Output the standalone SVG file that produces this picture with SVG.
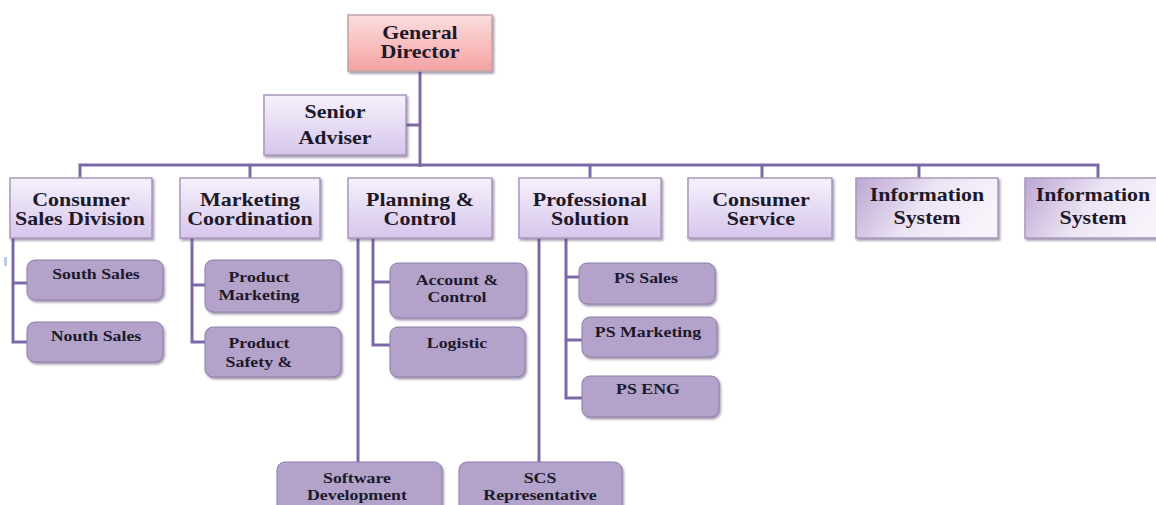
<svg xmlns="http://www.w3.org/2000/svg" width="1156" height="505" viewBox="0 0 1156 505">
  <defs>
    <linearGradient id="gPink" x1="0" y1="0" x2="0" y2="1">
      <stop offset="0" stop-color="#fcdede"/>
      <stop offset="1" stop-color="#f4a2a2"/>
    </linearGradient>
    <linearGradient id="gLav" x1="0" y1="0" x2="0" y2="1">
      <stop offset="0" stop-color="#f6f1fb"/>
      <stop offset="1" stop-color="#d6c6ec"/>
    </linearGradient>
    <linearGradient id="gInfo" x1="0" y1="0" x2="1" y2="0.3">
      <stop offset="0" stop-color="#bba6d2"/>
      <stop offset="0.55" stop-color="#ece4f4"/>
      <stop offset="1" stop-color="#f7f2fa"/>
    </linearGradient>
    <filter id="sh" x="-10%" y="-10%" width="125%" height="130%">
      <feDropShadow dx="1.5" dy="2" stdDeviation="1" flood-color="#5a4a6e" flood-opacity="0.55"/>
    </filter>
  </defs>
  <style>
    .conn { fill: none; stroke: #7c68a6; stroke-width: 3; }
    .top { fill: url(#gLav); stroke: #a898bc; stroke-width: 1.5; filter: url(#sh); }
    .info { fill: url(#gInfo); stroke: #a898bc; stroke-width: 1.5; filter: url(#sh); }
    .head { fill: url(#gPink); stroke: #c4a4a8; stroke-width: 1.5; filter: url(#sh); }
    .sub { fill: #b3a3cb; stroke: #8e7ea8; stroke-width: 1; filter: url(#sh); }
    text { font-family: "Liberation Serif", "Times New Roman", serif; font-weight: bold; fill: #1c1a2a; text-anchor: middle;
           transform-box: fill-box; transform-origin: center; }
    .t1 { font-size: 18px; transform: scaleX(1.22); }
    .t2 { font-size: 15.5px; transform: scaleX(1.15); }
  </style>

  <rect width="1156" height="505" fill="#ffffff"/>

  <!-- connectors -->
  <g id="connectors">
    <path class="conn" d="M420 71 V167"/>
    <path class="conn" d="M406 125 H420"/>
    <path class="conn" d="M80 178 V165 H1098 V178"/>
    <path class="conn" d="M250 165 V178"/>
    <path class="conn" d="M590 165 V178"/>
    <path class="conn" d="M762 165 V178"/>
    <path class="conn" d="M919 165 V178"/>
    <!-- Consumer Sales Division -->
    <path class="conn" d="M13 238 V342 H27"/>
    <path class="conn" d="M13 283 H27"/>
    <!-- Marketing Coordination -->
    <path class="conn" d="M192 238 V342 H205"/>
    <path class="conn" d="M192 285 H205"/>
    <!-- Planning & Control -->
    <path class="conn" d="M358 238 V462"/>
    <path class="conn" d="M373 238 V345 H390"/>
    <path class="conn" d="M373 282 H390"/>
    <!-- Professional Solution -->
    <path class="conn" d="M539 238 V462"/>
    <path class="conn" d="M566 238 V398 H582"/>
    <path class="conn" d="M566 277 H579"/>
    <path class="conn" d="M566 340 H582"/>
  </g>

  <!-- stray marker at left edge -->
  <rect x="4" y="257" width="3" height="9" fill="#a8c0dc" opacity="0.8"/>

  <g id="general-director">
    <rect class="head" x="348" y="15" width="144" height="56"/>
    <text class="t1" x="420" y="39">General</text>
    <text class="t1" x="420" y="58">Director</text>
  </g>

  <g id="senior-adviser">
    <rect class="top" x="264" y="95" width="142" height="60"/>
    <text class="t1" x="335" y="118">Senior</text>
    <text class="t1" x="335" y="144">Adviser</text>
  </g>

  <g id="consumer-sales-division">
    <rect class="top" x="10" y="178" width="142" height="60"/>
    <text class="t1" x="81" y="206">Consumer</text>
    <text class="t1" x="80" y="225">Sales Division</text>
  </g>

  <g id="marketing-coordination">
    <rect class="top" x="180" y="178" width="140" height="60"/>
    <text class="t1" x="250" y="206">Marketing</text>
    <text class="t1" x="250" y="225">Coordination</text>
  </g>

  <g id="planning-control">
    <rect class="top" x="348" y="178" width="144" height="60"/>
    <text class="t1" x="420" y="206">Planning &amp;</text>
    <text class="t1" x="420" y="225">Control</text>
  </g>

  <g id="professional-solution">
    <rect class="top" x="519" y="178" width="142" height="60"/>
    <text class="t1" x="590" y="206">Professional</text>
    <text class="t1" x="590" y="225">Solution</text>
  </g>

  <g id="consumer-service">
    <rect class="top" x="688" y="178" width="144" height="60"/>
    <text class="t1" x="761" y="206">Consumer</text>
    <text class="t1" x="761" y="225">Service</text>
  </g>

  <g id="information-system-1">
    <rect class="info" x="856" y="178" width="142" height="60"/>
    <text class="t1" x="927" y="201">Information</text>
    <text class="t1" x="927" y="224">System</text>
  </g>

  <g id="information-system-2">
    <rect class="info" x="1025" y="178" width="140" height="60"/>
    <text class="t1" x="1093" y="201">Information</text>
    <text class="t1" x="1093" y="224">System</text>
  </g>

  <g id="south-sales">
    <rect class="sub" x="27" y="260" width="136" height="40" rx="8"/>
    <text class="t2" x="96" y="279">South Sales</text>
  </g>

  <g id="nouth-sales">
    <rect class="sub" x="27" y="322" width="136" height="40" rx="8"/>
    <text class="t2" x="96" y="341">Nouth Sales</text>
  </g>

  <g id="product-marketing">
    <rect class="sub" x="205" y="260" width="136" height="52" rx="8"/>
    <text class="t2" x="259" y="282">Product</text>
    <text class="t2" x="259" y="300">Marketing</text>
  </g>

  <g id="product-safety">
    <rect class="sub" x="205" y="327" width="136" height="50" rx="8"/>
    <text class="t2" x="259" y="348">Product</text>
    <text class="t2" x="259" y="367">Safety &amp;</text>
  </g>

  <g id="account-control">
    <rect class="sub" x="390" y="263" width="136" height="55" rx="8"/>
    <text class="t2" x="457" y="285">Account &amp;</text>
    <text class="t2" x="457" y="302">Control</text>
  </g>

  <g id="logistic">
    <rect class="sub" x="390" y="327" width="135" height="50" rx="8"/>
    <text class="t2" x="457" y="348">Logistic</text>
  </g>

  <g id="ps-sales">
    <rect class="sub" x="579" y="263" width="136" height="41" rx="8"/>
    <text class="t2" x="646" y="283">PS Sales</text>
  </g>

  <g id="ps-marketing">
    <rect class="sub" x="582" y="317" width="135" height="40" rx="8"/>
    <text class="t2" x="648" y="337">PS Marketing</text>
  </g>

  <g id="ps-eng">
    <rect class="sub" x="582" y="376" width="137" height="41" rx="8"/>
    <text class="t2" x="648" y="394">PS ENG</text>
  </g>

  <g id="software-development">
    <rect class="sub" x="277" y="462" width="165" height="56" rx="8"/>
    <text class="t2" x="357" y="483">Software</text>
    <text class="t2" x="357" y="500">Development</text>
  </g>

  <g id="scs-representative">
    <rect class="sub" x="459" y="462" width="163" height="56" rx="8"/>
    <text class="t2" x="540" y="483">SCS</text>
    <text class="t2" x="540" y="500">Representative</text>
  </g>
</svg>
